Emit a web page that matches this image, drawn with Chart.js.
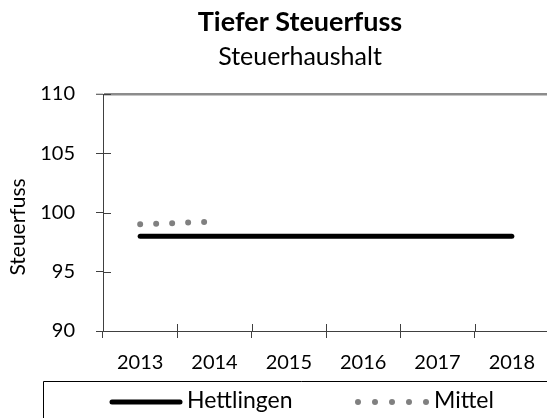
<!DOCTYPE html>
<html lang="de">

<head>
    <meta charset="UTF-8">
    <title>Tiefer Steuerfuss</title>
    <script src="https://cdn.jsdelivr.net/npm/chart.js"></script>
    <style>
        html, body { margin: 0; padding: 0; background: #fff; overflow: hidden; }
        #wrap { width: 560px; height: 418px; }
    </style>
</head>

<body>
    <div id="wrap"><canvas id="graficoSteuer"></canvas></div>
</body>

</html>
<script>
    // Daten
    const jahre = ['2013', '2014', '2015', '2016', '2017', '2018']
    const hettlingen = [98, 98, 98, 98, 98, 98]
    const mittel = [99.0, 99.24, null, null, null, null]
    const yMin = 90
    const yMax = 110
    const yStep = 5

    const titel = 'Tiefer Steuerfuss'
    const untertitel = 'Steuerhaushalt'
    const achsenTitel = 'Steuerfuss'

    const achsenFarbe = '#404040'
    const schrift = 'Lato'

    Chart.defaults.font.family = schrift
    Chart.defaults.color = '#000'

    // Titel, Achsentitel, kurze Striche nach innen und Legende
    const deko = {
        id: 'deko',
        afterDraw(chart) {
            const ctx = chart.ctx
            const a = chart.chartArea
            const x = chart.scales.x
            const y = chart.scales.y
            ctx.save()

            ctx.fillStyle = '#000'
            ctx.textAlign = 'center'
            ctx.textBaseline = 'alphabetic'
            ctx.font = 'bold 27px ' + schrift
            ctx.fillText(titel, 300, 31)
            ctx.font = '25px ' + schrift
            ctx.fillText(untertitel, 300, 65)

            ctx.save()
            ctx.translate(25, 227)
            ctx.rotate(-Math.PI / 2)
            ctx.font = '21px ' + schrift
            ctx.fillText(achsenTitel, 0, 0)
            ctx.restore()

            ctx.strokeStyle = achsenFarbe
            ctx.lineWidth = 1
            const breite = x.getPixelForValue(1) - x.getPixelForValue(0)
            for (let i = 0; i <= jahre.length; i++) {
                const px = Math.round(x.getPixelForValue(i) - breite / 2) + 0.5
                ctx.beginPath()
                ctx.moveTo(px, a.bottom)
                ctx.lineTo(px, a.bottom - 7)
                ctx.stroke()
            }
            y.ticks.forEach(function (t) {
                const py = Math.round(y.getPixelForValue(t.value)) + 0.5
                ctx.beginPath()
                ctx.moveTo(a.left, py)
                ctx.lineTo(a.left + 8, py)
                ctx.stroke()
            })

            // Legende
            ctx.strokeStyle = '#000'
            ctx.beginPath()
            ctx.moveTo(43.5, 418)
            ctx.lineTo(43.5, 381.5)
            ctx.lineTo(chart.width, 381.5)
            ctx.stroke()

            const ds = chart.data.datasets
            const ly = 402
            ctx.font = '23px ' + schrift
            ctx.textAlign = 'left'

            ctx.strokeStyle = ds[0].borderColor
            ctx.lineWidth = ds[0].borderWidth
            ctx.lineCap = 'round'
            ctx.beginPath()
            ctx.moveTo(112, ly)
            ctx.lineTo(180, ly)
            ctx.stroke()
            ctx.fillText(ds[0].label, 187, 408)

            ctx.fillStyle = ds[1].borderColor
            for (let k = 0; k < 5; k++) {
                ctx.beginPath()
                ctx.arc(358 + k * 17, ly, 3, 0, Math.PI * 2)
                ctx.fill()
            }
            ctx.fillStyle = '#000'
            ctx.fillText(ds[1].label, 434, 408)

            ctx.restore()
        }
    }

    new Chart(document.getElementById('graficoSteuer'), {
        type: 'line',
        data: {
            labels: jahre,
            datasets: [
                {
                    label: 'Hettlingen',
                    data: hettlingen,
                    borderColor: '#000',
                    borderWidth: 5,
                    borderCapStyle: 'round',
                    pointRadius: 0,
                    fill: false
                },
                {
                    label: 'Mittel',
                    data: mittel,
                    borderColor: '#808080',
                    borderWidth: 6,
                    borderDash: [0, 16],
                    borderCapStyle: 'round',
                    pointRadius: 0,
                    fill: false,
                    spanGaps: false
                }
            ]
        },
        options: {
            responsive: true,
            maintainAspectRatio: false,
            animation: false,
            layout: {
                padding: { top: 94, left: 0, right: 11, bottom: 37 }
            },
            plugins: {
                legend: { display: false },
                tooltip: { enabled: false }
            },
            scales: {
                x: {
                    offset: true,
                    afterFit: function (s) { s.height = 50 },
                    grid: {
                        offset: true,
                        drawOnChartArea: false,
                        tickLength: 7,
                        color: achsenFarbe
                    },
                    border: { display: true, color: achsenFarbe, width: 1 },
                    ticks: {
                        padding: 13,
                        maxRotation: 0,
                        font: { size: 20 },
                        color: '#000'
                    }
                },
                y: {
                    min: yMin,
                    max: yMax,
                    afterFit: function (s) { s.width = 103 },
                    grid: {
                        drawOnChartArea: true,
                        tickLength: 7,
                        tickColor: achsenFarbe,
                        tickWidth: 1,
                        color: function (c) { return c.tick && c.tick.value === yMax ? '#8c8c8c' : 'rgba(0,0,0,0)' },
                        lineWidth: function (c) { return c.tick && c.tick.value === yMax ? 2.5 : 1 }
                    },
                    border: { display: true, color: achsenFarbe, width: 1 },
                    ticks: {
                        stepSize: yStep,
                        padding: 21,
                        font: { size: 20 },
                        color: '#000'
                    }
                }
            }
        },
        plugins: [deko]
    });
</script>
